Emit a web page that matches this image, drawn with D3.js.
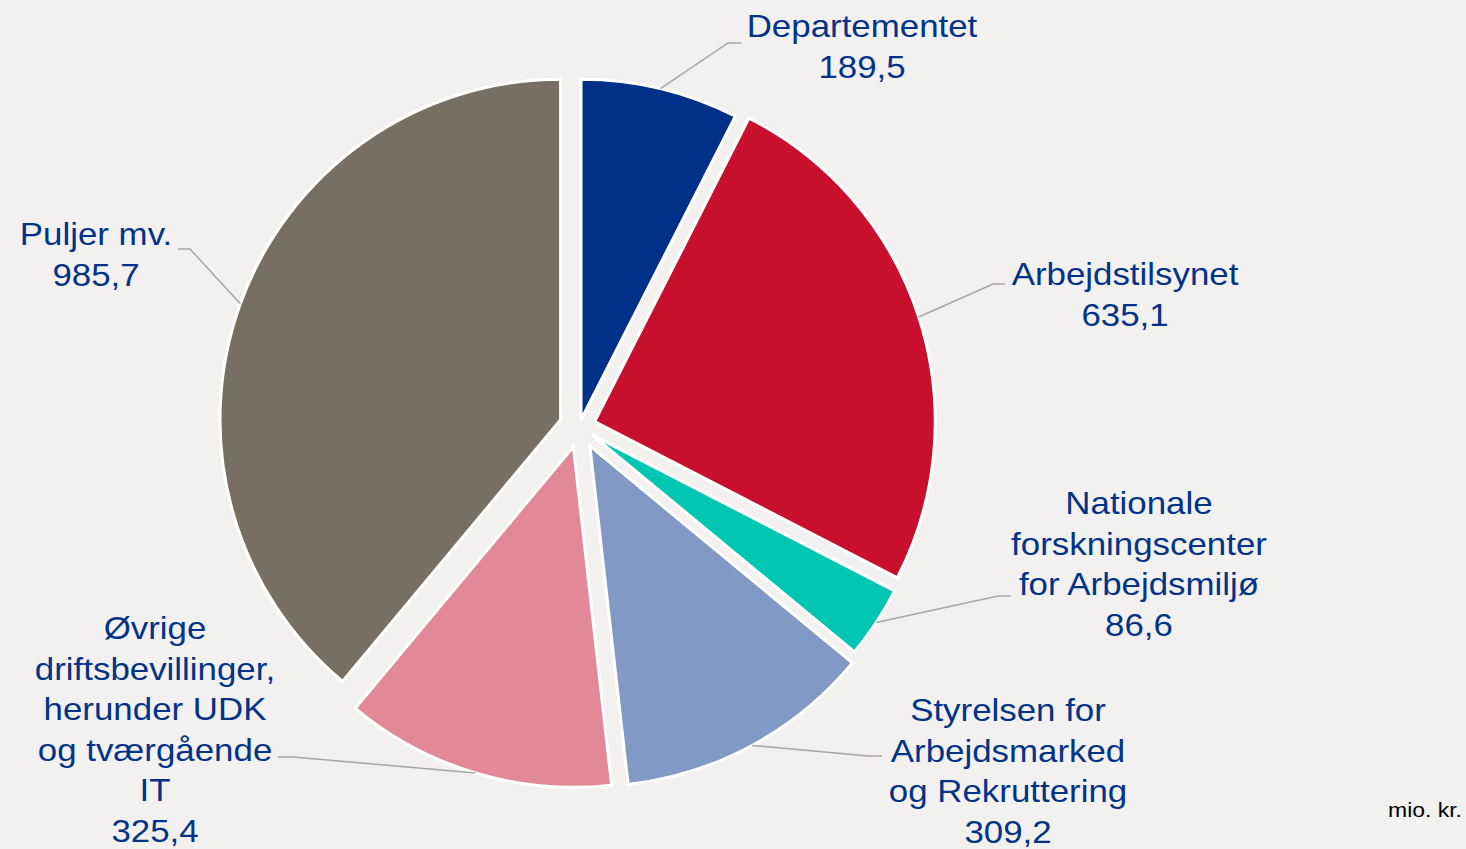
<!DOCTYPE html>
<html>
<head>
<meta charset="utf-8">
<script src="https://cdn.jsdelivr.net/npm/d3@7"></script>
<style>
  html, body { margin: 0; padding: 0; background: #f2f1ef; }
  svg { display: block; }
  text { font-family: "Liberation Sans", Arial, sans-serif; }
</style>
</head>
<body>
<svg id="chart" width="1466" height="849"></svg>
<script>
// ---- data ----
const categories = [
  "Departementet",
  "Arbejdstilsynet",
  "Nationale forskningscenter for Arbejdsmiljø",
  "Styrelsen for Arbejdsmarked og Rekruttering",
  "Øvrige driftsbevillinger, herunder UDK og tværgående IT",
  "Puljer mv."
];
const values = [189.5, 635.1, 86.6, 309.2, 325.4, 985.7];
const valueLabels = ["189,5", "635,1", "86,6", "309,2", "325,4", "985,7"];
const labelLines = [
  ["Departementet"],
  ["Arbejdstilsynet"],
  ["Nationale", "forskningscenter", "for Arbejdsmiljø"],
  ["Styrelsen for", "Arbejdsmarked", "og Rekruttering"],
  ["Øvrige", "driftsbevillinger,", "herunder UDK", "og tværgående", "IT"],
  ["Puljer mv."]
];
const unitLabel = "mio. kr.";

// ---- style / layout ----
const colors = ["#003087", "#c8102e", "#00c6b2", "#8299c6", "#e38896", "#776f62"];
const explode = [7, 16, 15, 22, 21, 20];
const cx = 579.4, cy = 426.6, radius = 340.6;
const labelColor = "#023389";
const fontSize = 31, lineStep = 40.6, stretch = 1.125;
// label layout: text center x, first baseline y, leader elbow and end
const labelLayout = [
  { x: 862,  y: 37,  elbow: [728, 43],  end: [741, 43] },
  { x: 1125, y: 285, elbow: [993, 284], end: [1005, 284] },
  { x: 1139, y: 514, elbow: [998, 596], end: [1011, 596] },
  { x: 1008, y: 721, elbow: [868, 756], end: [882, 756] },
  { x: 155,  y: 639, elbow: [293, 757], end: [278, 757] },
  { x: 96,   y: 245, elbow: [190, 249], end: [178, 249] }
];

const svg = d3.select("#chart");
svg.append("rect").attr("width", 1466).attr("height", 849).attr("fill", "#f2f1ef");

const pie = d3.pie().sort(null).value(d => d).startAngle(0).endAngle(2 * Math.PI);
const arcs = pie(values);
const arc = d3.arc().innerRadius(0).outerRadius(radius);

const g = svg.append("g").attr("transform", `translate(${cx},${cy})`);

arcs.forEach((a, i) => {
  const mid = (a.startAngle + a.endAngle) / 2;
  const dx = Math.sin(mid) * explode[i], dy = -Math.cos(mid) * explode[i];
  g.append("path")
    .attr("d", arc(a))
    .attr("transform", `translate(${dx},${dy})`)
    .attr("fill", colors[i])
    .attr("stroke", "#ffffff")
    .attr("stroke-width", 3)
    .attr("stroke-linejoin", "miter");
});

// leader lines
arcs.forEach((a, i) => {
  const mid = (a.startAngle + a.endAngle) / 2;
  const rr = radius + explode[i];
  const sx = cx + Math.sin(mid) * rr, sy = cy - Math.cos(mid) * rr;
  const L = labelLayout[i];
  svg.append("polyline")
    .attr("points", [[sx, sy], L.elbow, L.end].map(p => p.join(",")).join(" "))
    .attr("fill", "none")
    .attr("stroke", "#a6a6a6")
    .attr("stroke-width", 1.5);
});

// labels
arcs.forEach((a, i) => {
  const L = labelLayout[i];
  const lines = labelLines[i].concat([valueLabels[i]]);
  const t = svg.append("g").attr("transform", `translate(${L.x},${L.y}) scale(${stretch},1)`);
  lines.forEach((ln, k) => {
    t.append("text")
      .attr("x", 0)
      .attr("y", k * lineStep)
      .attr("text-anchor", "middle")
      .attr("font-size", fontSize)
      .attr("fill", labelColor)
      .text(ln);
  });
});

svg.append("g").attr("transform", `translate(1462,817) scale(1.12,1)`)
  .append("text")
  .attr("text-anchor", "end")
  .attr("font-size", 20.5)
  .attr("fill", "#000")
  .text(unitLabel);
</script>
</body>
</html>
